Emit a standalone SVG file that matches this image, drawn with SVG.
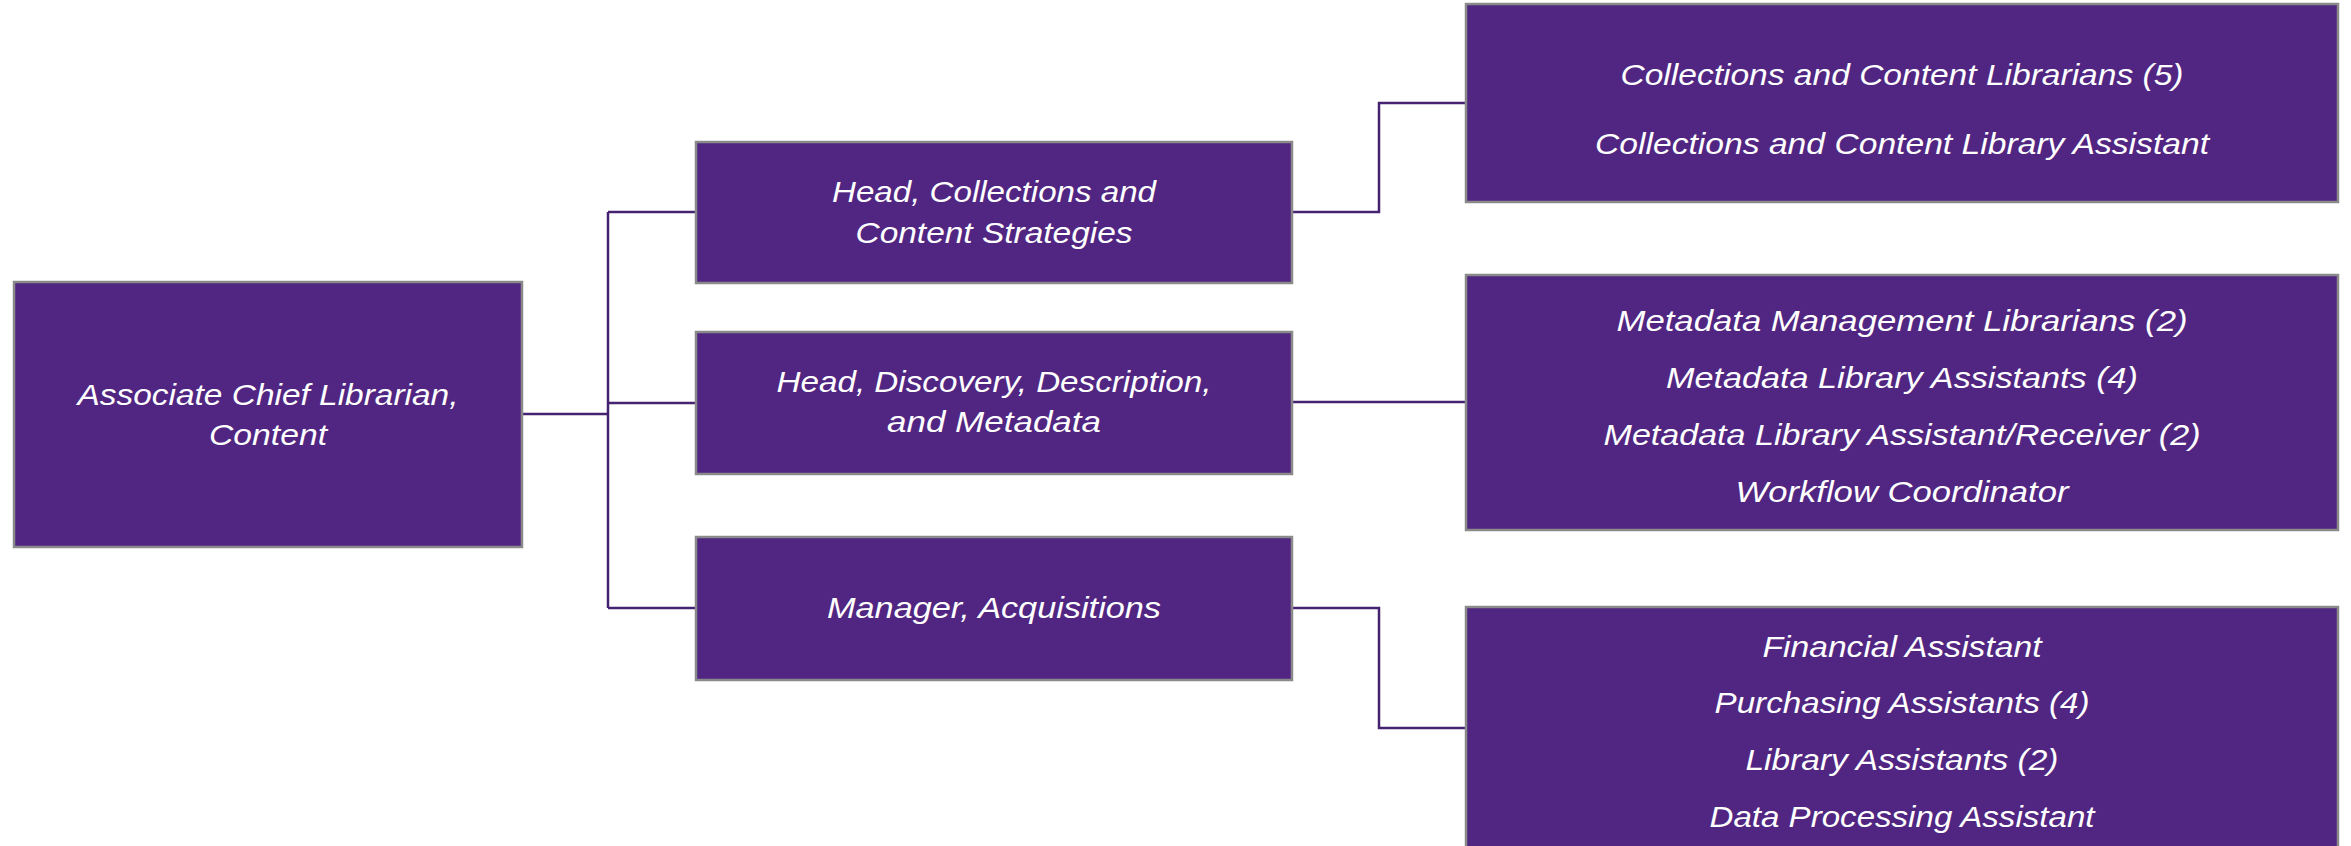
<svg xmlns="http://www.w3.org/2000/svg" width="2351" height="846" viewBox="0 0 2351 846">
<style>
.box{fill:#512682;stroke:#8a8a8a;stroke-width:2.5}
.t{font-family:"Liberation Sans",Arial,sans-serif;font-style:italic;font-size:30px;fill:#ffffff;text-anchor:middle}
.c{fill:none;stroke:#452272;stroke-width:2.5}
</style>
<rect width="2351" height="846" fill="#ffffff"/>
<g id="connectors">
<polyline class="c" points="522,414 608,414"/>
<polyline class="c" points="608,212 608,608"/>
<polyline class="c" points="608,212 696,212"/>
<polyline class="c" points="608,403 696,403"/>
<polyline class="c" points="608,608 696,608"/>
<polyline class="c" points="1292,212 1379,212 1379,103 1466,103"/>
<polyline class="c" points="1292,402 1466,402"/>
<polyline class="c" points="1292,608 1379,608 1379,728 1466,728"/>
</g>
<g id="root">
<rect class="box" x="14" y="282" width="508" height="265"/>
<text class="t" x="268" y="405" textLength="381" lengthAdjust="spacingAndGlyphs">Associate Chief Librarian,</text>
<text class="t" x="268" y="445" textLength="118" lengthAdjust="spacingAndGlyphs">Content</text>
</g>
<g id="head-collections">
<rect class="box" x="696" y="142" width="596" height="141"/>
<text class="t" x="994" y="202" textLength="324" lengthAdjust="spacingAndGlyphs">Head, Collections and</text>
<text class="t" x="994" y="243" textLength="277" lengthAdjust="spacingAndGlyphs">Content Strategies</text>
</g>
<g id="head-discovery">
<rect class="box" x="696" y="332" width="596" height="142"/>
<text class="t" x="994" y="392" textLength="435" lengthAdjust="spacingAndGlyphs">Head, Discovery, Description,</text>
<text class="t" x="994" y="432" textLength="214" lengthAdjust="spacingAndGlyphs">and Metadata</text>
</g>
<g id="manager-acquisitions">
<rect class="box" x="696" y="537" width="596" height="143"/>
<text class="t" x="994" y="618" textLength="334" lengthAdjust="spacingAndGlyphs">Manager, Acquisitions</text>
</g>
<g id="collections-staff">
<rect class="box" x="1466" y="4" width="872" height="198"/>
<text class="t" x="1902" y="85" textLength="563" lengthAdjust="spacingAndGlyphs">Collections and Content Librarians (5)</text>
<text class="t" x="1902" y="154" textLength="614" lengthAdjust="spacingAndGlyphs">Collections and Content Library Assistant</text>
</g>
<g id="metadata-staff">
<rect class="box" x="1466" y="275" width="872" height="255"/>
<text class="t" x="1902" y="331" textLength="571" lengthAdjust="spacingAndGlyphs">Metadata Management Librarians (2)</text>
<text class="t" x="1902" y="388" textLength="472" lengthAdjust="spacingAndGlyphs">Metadata Library Assistants (4)</text>
<text class="t" x="1902" y="445" textLength="597" lengthAdjust="spacingAndGlyphs">Metadata Library Assistant/Receiver (2)</text>
<text class="t" x="1902" y="502" textLength="333" lengthAdjust="spacingAndGlyphs">Workflow Coordinator</text>
</g>
<g id="acquisitions-staff">
<rect class="box" x="1466" y="607" width="872" height="242"/>
<text class="t" x="1902" y="657" textLength="279" lengthAdjust="spacingAndGlyphs">Financial Assistant</text>
<text class="t" x="1902" y="713" textLength="375" lengthAdjust="spacingAndGlyphs">Purchasing Assistants (4)</text>
<text class="t" x="1902" y="770" textLength="313" lengthAdjust="spacingAndGlyphs">Library Assistants (2)</text>
<text class="t" x="1902" y="827" textLength="385" lengthAdjust="spacingAndGlyphs">Data Processing Assistant</text>
</g>
</svg>
